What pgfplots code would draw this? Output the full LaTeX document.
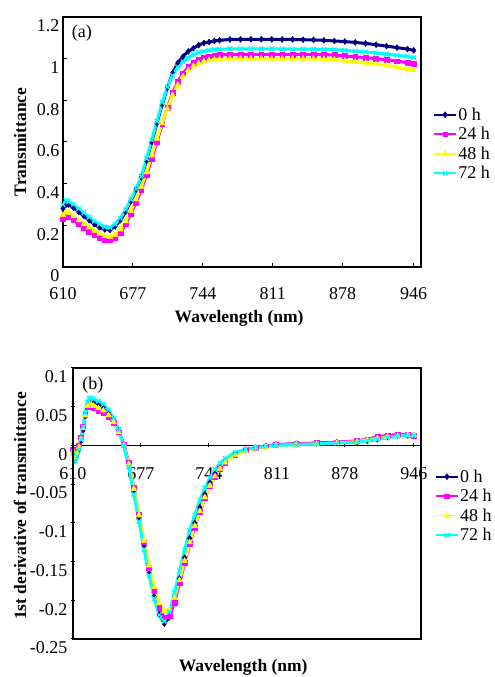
\documentclass[border=0pt]{standalone}
\usepackage{fontspec}
\setmainfont{Liberation Serif}
\usepackage{pgfplots}
\usepackage{pgfplotstable}
\pgfplotsset{compat=1.18}

\definecolor{c0}{RGB}{0,0,128}
\definecolor{c24}{RGB}{255,0,255}
\definecolor{c48}{RGB}{255,255,0}
\definecolor{c72}{RGB}{0,255,255}

% panel (a): transmittance
\pgfplotstableread{
wl h0 h24 h48 h72
610 0.280 0.230 0.250 0.300
613 0.300 0.245 0.265 0.320
615 0.300 0.240 0.260 0.315
620 0.285 0.225 0.243 0.300
625 0.265 0.205 0.224 0.280
630 0.245 0.187 0.205 0.260
635 0.225 0.171 0.189 0.240
640 0.205 0.156 0.174 0.220
645 0.190 0.142 0.160 0.205
650 0.180 0.132 0.148 0.192
655 0.178 0.130 0.145 0.190
660 0.195 0.140 0.155 0.205
665 0.225 0.165 0.180 0.235
670 0.265 0.205 0.220 0.275
675 0.315 0.255 0.270 0.325
680 0.370 0.310 0.325 0.375
685 0.430 0.370 0.385 0.435
690 0.510 0.440 0.455 0.520
695 0.600 0.520 0.535 0.610
700 0.690 0.600 0.615 0.700
705 0.780 0.685 0.690 0.790
710 0.860 0.765 0.760 0.865
715 0.930 0.835 0.825 0.920
720 0.980 0.890 0.875 0.960
725 1.010 0.930 0.915 0.985
730 1.035 0.960 0.945 1.005
735 1.050 0.980 0.965 1.020
740 1.065 0.995 0.978 1.030
745 1.075 1.005 0.987 1.035
750 1.080 1.012 0.993 1.040
755 1.085 1.016 0.996 1.043
760 1.088 1.018 0.998 1.045
770 1.092 1.020 1.000 1.047
780 1.093 1.020 1.000 1.047
790 1.093 1.020 1.000 1.047
800 1.093 1.020 1.000 1.047
810 1.093 1.020 1.000 1.047
820 1.092 1.020 1.000 1.046
830 1.092 1.020 1.000 1.046
840 1.091 1.020 1.000 1.046
850 1.090 1.020 1.000 1.045
860 1.088 1.020 0.998 1.045
870 1.085 1.017 0.995 1.043
880 1.082 1.013 0.990 1.040
890 1.078 1.009 0.985 1.036
900 1.073 1.005 0.980 1.032
910 1.067 1.000 0.974 1.027
920 1.060 0.995 0.967 1.022
930 1.053 0.988 0.959 1.016
940 1.046 0.981 0.950 1.010
946 1.040 0.976 0.945 1.005
}\transtab

% panel (b): first derivative
\pgfplotstableread{
wl h0 h24 h48 h72
610 -0.008 -0.006 -0.007 -0.010
612 -0.018 -0.014 -0.016 -0.020
614 -0.012 -0.008 -0.010 -0.014
616 -0.004 0.000 -0.002 -0.005
618 0.006 0.010 0.008 0.008
620 0.020 0.024 0.022 0.024
622 0.038 0.040 0.039 0.042
624 0.051 0.050 0.051 0.056
626 0.057 0.052 0.054 0.061
628 0.058 0.050 0.053 0.061
630 0.057 0.048 0.051 0.060
635 0.054 0.045 0.048 0.057
640 0.050 0.042 0.045 0.053
645 0.043 0.037 0.039 0.046
650 0.033 0.029 0.030 0.035
655 0.019 0.017 0.017 0.020
660 0.001 0.001 0.000 0.000
665 -0.025 -0.022 -0.024 -0.028
670 -0.060 -0.055 -0.056 -0.063
675 -0.095 -0.090 -0.090 -0.098
680 -0.130 -0.125 -0.123 -0.134
685 -0.165 -0.158 -0.155 -0.168
690 -0.195 -0.188 -0.183 -0.198
695 -0.218 -0.210 -0.204 -0.219
700 -0.230 -0.222 -0.214 -0.227
705 -0.222 -0.220 -0.212 -0.215
710 -0.200 -0.203 -0.197 -0.190
715 -0.172 -0.178 -0.174 -0.162
720 -0.145 -0.152 -0.149 -0.135
725 -0.120 -0.127 -0.125 -0.110
730 -0.100 -0.106 -0.104 -0.090
735 -0.080 -0.086 -0.085 -0.071
740 -0.063 -0.068 -0.067 -0.055
745 -0.048 -0.052 -0.052 -0.042
750 -0.036 -0.040 -0.040 -0.031
755 -0.027 -0.030 -0.030 -0.023
760 -0.020 -0.022 -0.022 -0.017
770 -0.011 -0.012 -0.012 -0.009
780 -0.006 -0.006 -0.007 -0.005
790 -0.003 -0.003 -0.004 -0.003
800 -0.001 -0.001 -0.002 -0.001
810 0.001 0.001 0.000 0.000
830 0.002 0.002 0.001 0.001
850 0.003 0.003 0.002 0.002
870 0.004 0.004 0.003 0.003
890 0.005 0.006 0.005 0.004
900 0.006 0.008 0.007 0.006
910 0.008 0.011 0.009 0.008
920 0.011 0.013 0.011 0.010
930 0.013 0.014 0.012 0.012
940 0.013 0.014 0.013 0.013
946 0.013 0.013 0.013 0.013
}\derivtab

\newcommand\tickfont{\fontsize{18}{20}\selectfont}
\newcommand\labfont{\bfseries\fontsize{17.5}{20}\selectfont}

\pgfplotsset{
  panel/.style={
    scale only axis,
    axis line style={line width=1.2pt},
    tick style={line width=1pt, black},
    major tick length=4pt,
    xmin=610, xmax=953,
    xtick={610,677,744,811,878,946},
    xticklabels={610,677,744,811,878,946},
    xticklabel style={font=\tickfont, yshift=-17pt},
    yticklabel style={font=\tickfont, yshift=-9pt},
    legend style={draw=none, fill=none, anchor=west,
      font=\tickfont, row sep=2.5pt, inner sep=0pt,
      nodes={inner sep=1.5pt}},
    legend cell align=left,
    legend image code/.code={
      \draw[line width=1.6pt,mark repeat=2,mark phase=2] plot coordinates {(0pt,0pt)(11pt,0pt)(22pt,0pt)};},
    every axis plot/.append style={line width=3pt},
  },
  s0/.style={color=c0, mark=diamond*, mark size=3pt, mark options={line width=0.5pt}},
  s24/.style={color=c24, mark=square*, mark size=2.4pt, mark options={line width=0.5pt}},
  s48/.style={color=c48, mark=triangle*, mark size=3.2pt, mark options={line width=0.5pt}},
  s72/.style={color=c72, mark=x, mark size=3.2pt, mark options={line width=1.3pt}},
}

\begin{document}
\begin{tikzpicture}
\path[use as bounding box] (0,0) rectangle (495pt,677pt);

\begin{axis}[panel,
  at={(63pt,410pt)}, anchor=south west,
  width=358pt, height=250pt,
  tick align=inside, tick pos=left,
  ymin=0, ymax=1.2,
  ytick={0,0.2,0.4,0.6,0.8,1,1.2},
  yticklabels={0,0.2,0.4,0.6,0.8,1,1.2},
  xlabel={Wavelength (nm)},
  ylabel={Transmittance},
  xlabel style={at={(axis description cs:0.492,-0.204)}, anchor=center, font=\labfont},
  ylabel style={at={(axis description cs:-0.12,0.5)}, anchor=center, font=\labfont},
  legend style={at={(axis description cs:1.034,0.492)}},
]
\addplot[s0] table[x=wl,y=h0] {\transtab};
\addplot[s24] table[x=wl,y=h24] {\transtab};
\addplot[s48] table[x=wl,y=h48] {\transtab};
\addplot[s72] table[x=wl,y=h72] {\transtab};
\legend{0 h,24 h,48 h,72 h}
\node[font=\tickfont] at (axis description cs:0.053,0.936) {(a)};
\end{axis}

\begin{axis}[panel,
  at={(73pt,38pt)}, anchor=south west,
  width=348pt, height=271pt,
  axis x line=middle, axis y line=left,
  axis line style={-, line width=1.2pt},
  hide obscured x ticks=false,
  hide obscured y ticks=false,
  ymin=-0.25, ymax=0.1,
  ytick={-0.25,-0.2,-0.15,-0.1,-0.05,0,0.05,0.1},
  yticklabels={-0.25,-0.2,-0.15,-0.1,-0.05,0,0.05,0.1},
  xlabel={Wavelength (nm)},
  ylabel={1st derivative of transmittance},
  xlabel style={at={(axis description cs:0.489,-0.103)}, anchor=center, font=\labfont},
  ylabel style={at={(axis description cs:-0.152,0.491)}, anchor=center, font=\labfont},
  legend style={at={(axis description cs:1.040,0.491)}},
  after end axis/.code={\draw[line width=1.2pt] (rel axis cs:0,0) rectangle (rel axis cs:1,1);},
]
\addplot[s0] table[x=wl,y=h0] {\derivtab};
\addplot[s24] table[x=wl,y=h24] {\derivtab};
\addplot[s48] table[x=wl,y=h48] {\derivtab};
\addplot[s72] table[x=wl,y=h72] {\derivtab};
\legend{0 h,24 h,48 h,72 h}
\node[font=\tickfont] at (axis description cs:0.057,0.937) {(b)};
\end{axis}
\end{tikzpicture}
\end{document}
